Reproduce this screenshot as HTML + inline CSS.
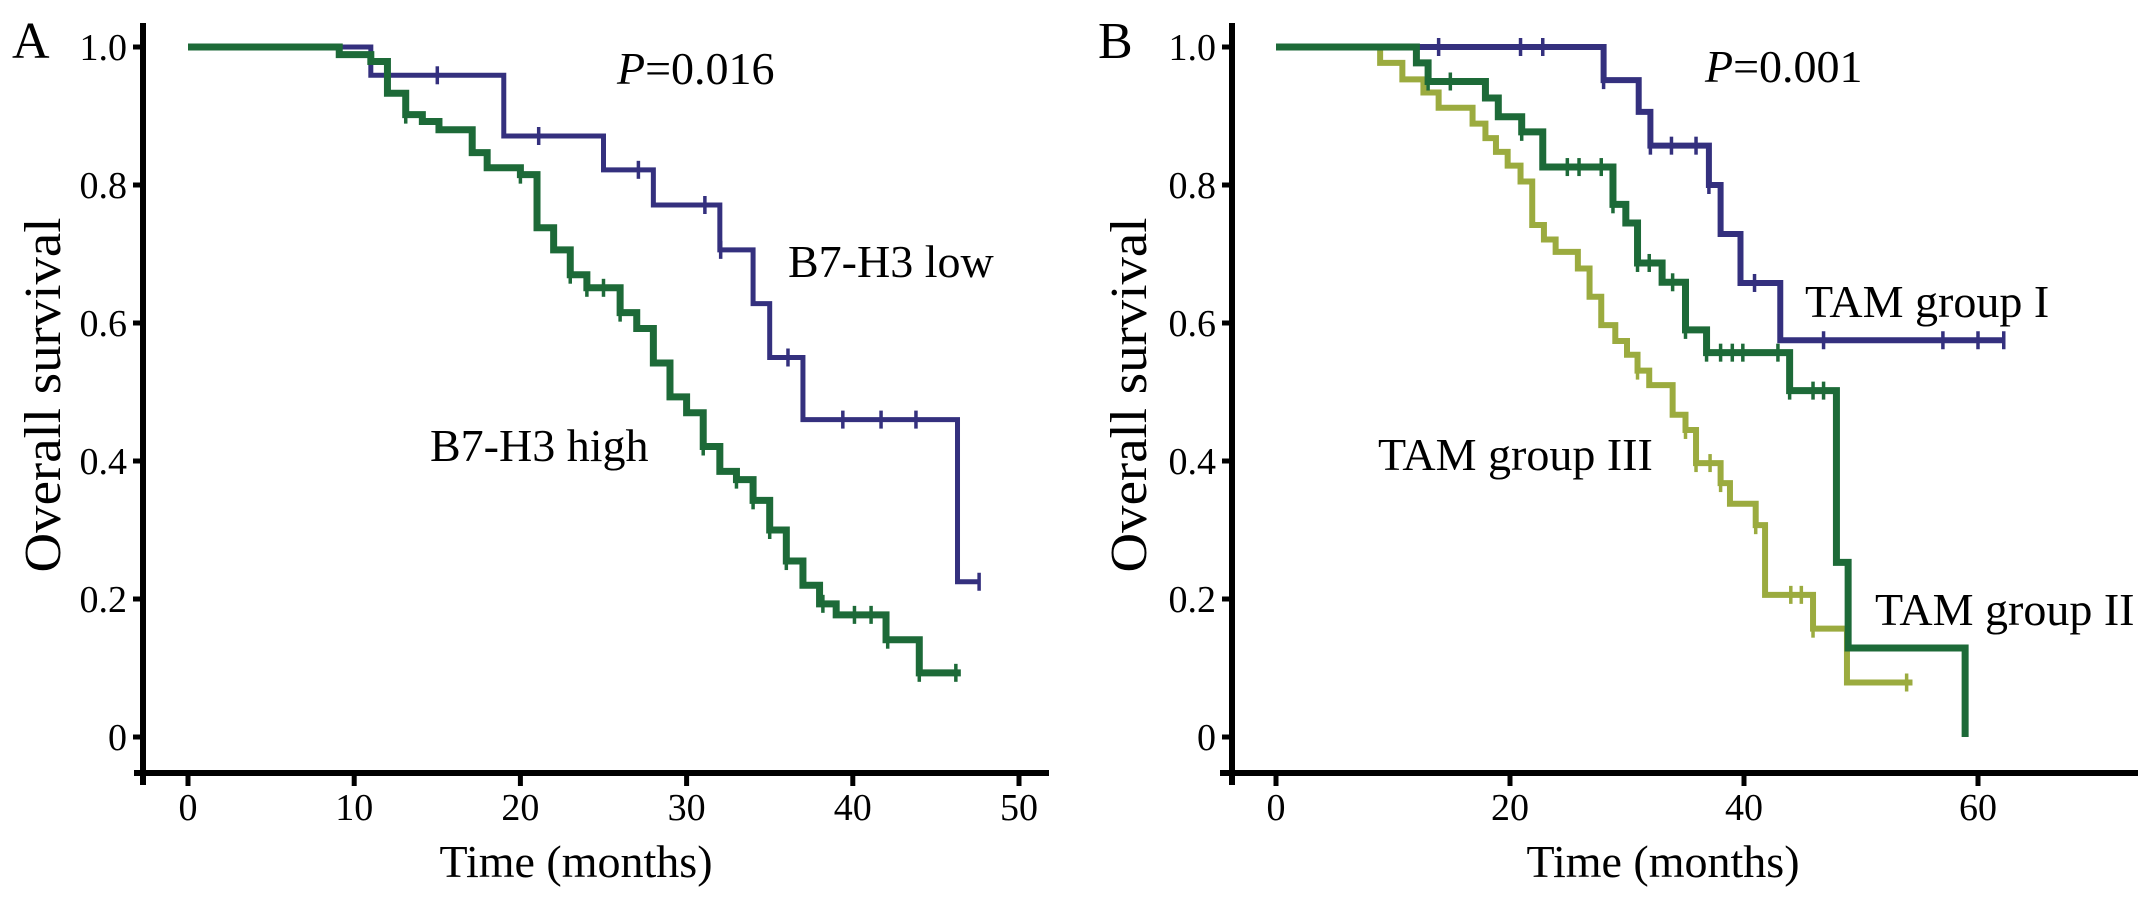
<!DOCTYPE html>
<html><head><meta charset="utf-8"><style>
html,body{margin:0;padding:0;background:#fff;}
svg{display:block;font-family:"Liberation Serif",serif;}
</style></head>
<body>
<svg id="chart" width="2150" height="899" viewBox="0 0 2150 899" xmlns="http://www.w3.org/2000/svg">
<rect width="2150" height="899" fill="#fff"/>
<g id="panelA"></g>
<g id="panelB"></g>
</svg>
<script>
// ---------- data ----------
const yTicks = [0, 0.2, 0.4, 0.6, 0.8, 1.0];
const yTickLabels = ["0", "0.2", "0.4", "0.6", "0.8", "1.0"];
const xTicksA = [0, 10, 20, 30, 40, 50];
const xTicksB = [0, 20, 40, 60];

const aLowTimes = [11, 19, 25, 28, 32, 34, 35, 37, 46.3];
const aLowSurv = [0.959, 0.871, 0.822, 0.771, 0.706, 0.628, 0.55, 0.46, 0.225];
const aLowCensor = [15, 21.1, 27.1, 31.1, 32.05, 36.1, 39.4, 41.7, 43.8, 47.6];
const aLowEnd = 47.6;

const aHighTimes = [9.1, 11, 12, 13.1, 14.1, 15.1, 17.1, 18, 20, 21, 22, 23, 24, 26, 27, 28, 29, 30, 31, 32, 33, 34, 35, 36, 37, 38, 39, 42, 44];
const aHighSurv = [0.989, 0.979, 0.933, 0.902, 0.892, 0.880, 0.847, 0.825, 0.815, 0.738, 0.706, 0.670, 0.651, 0.615, 0.592, 0.542, 0.493, 0.470, 0.421, 0.385, 0.373, 0.343, 0.30, 0.255, 0.22, 0.193, 0.177, 0.141, 0.093];
const aHighCensor = [13.1, 20, 23, 24, 25, 26, 31, 33, 34, 35, 36, 38.2, 40.1, 41.1, 42.1, 44, 46.2];
const aHighEnd = 46.5;

const b1Times = [28, 31, 32, 37, 38, 39.7, 43.1];
const b1Surv = [0.952, 0.906, 0.857, 0.80, 0.729, 0.658, 0.575];
const b1Censor = [13.9, 20.9, 22.8, 28, 32, 33.8, 35.9, 37, 40.9, 46.8, 57, 60, 62.2];
const b1End = 62.2;

const b2Times = [12, 13, 17.9, 19, 21, 22.8, 28.8, 29.9, 30.9, 33, 35, 36.8, 43.9, 47.9, 48.9, 58.9];
const b2Surv = [0.977, 0.95, 0.926, 0.899, 0.877, 0.826, 0.772, 0.745, 0.687, 0.659, 0.59, 0.557, 0.502, 0.253, 0.129, 0];
const b2Censor = [13, 14.9, 21, 24.9, 25.9, 27.8, 28.8, 30.9, 31.9, 33.9, 35, 36.8, 38, 39, 39.9, 42.9, 43.9, 45.9, 46.8];
const b2End = 58.9;

const b3Times = [8.9, 10.8, 12.6, 13.9, 16.8, 17.9, 18.8, 19.8, 20.9, 21.9, 22.9, 23.9, 25.8, 26.8, 27.8, 29, 30, 30.9, 31.9, 33.9, 35, 35.9, 38, 38.8, 41, 41.8, 45.9, 48.8];
const b3Surv = [0.977, 0.953, 0.934, 0.912, 0.889, 0.868, 0.848, 0.828, 0.805, 0.742, 0.721, 0.703, 0.679, 0.638, 0.597, 0.574, 0.554, 0.531, 0.510, 0.467, 0.445, 0.397, 0.368, 0.338, 0.307, 0.206, 0.157, 0.079];
const b3Censor = [30.9, 35, 35.9, 37.1, 38, 41, 44, 44.9, 45.9, 53.9];
const b3End = 54.4;

// ---------- helpers ----------
const NS = "http://www.w3.org/2000/svg";
function mk(tag, attrs, parent) {
  const e = document.createElementNS(NS, tag);
  for (const k in attrs) e.setAttribute(k, attrs[k]);
  parent.appendChild(e);
  return e;
}
const yPix = v => 737 - 690 * v;

function survAt(times, surv, t) {
  let s = 1;
  for (let i = 0; i < times.length; i++) if (times[i] <= t + 1e-9) s = surv[i];
  return s;
}

function drawCurve(g, xf, times, surv, censor, end, color, w, name) {
  let d = "M" + xf(0) + "," + yPix(1);
  let cur = 1;
  for (let i = 0; i < times.length; i++) {
    d += " H" + xf(times[i]) + " V" + yPix(surv[i]);
    cur = surv[i];
  }
  if (cur > 0) d += " H" + xf(end);
  const p = mk("path", {d: d, fill: "none", stroke: color, "stroke-width": w, "stroke-linejoin": "miter", "stroke-linecap": "butt"}, g);
  
  
  censor.forEach(t => {
    const x = xf(t), y = yPix(survAt(times, surv, t));
    const c = mk("line", {x1: x, x2: x, y1: y - 9, y2: y + 9, stroke: color, "stroke-width": 3.5}, g);
    
    
  });
}

function drawAxes(g, axisX, xStart, xEnd, xf, xticks, letter, letterX, titleX, ylabX) {
  const ax = mk("line", {x1: axisX, x2: axisX, y1: 23, y2: 775, stroke: "#000", "stroke-width": 6}, g);
  
  
  const bx = mk("line", {x1: xStart, x2: xEnd, y1: 773, y2: 773, stroke: "#000", "stroke-width": 6}, g);
  
  
  const lt = mk("line", {x1: axisX, x2: axisX, y1: 773, y2: 785, stroke: "#000", "stroke-width": 6}, g);
  
  
  yTicks.forEach((v, i) => {
    const y = yPix(v);
    const t = mk("line", {x1: axisX - 10, x2: axisX, y1: y, y2: y, stroke: "#000", "stroke-width": 5}, g);
    
    
    const tx = mk("text", {x: axisX - 16, y: y + 13, "text-anchor": "end", "font-size": 38}, g);
    tx.textContent = yTickLabels[i];
    
    
  });
  xticks.forEach(v => {
    const x = xf(v);
    const t = mk("line", {x1: x, x2: x, y1: 773, y2: 786, stroke: "#000", "stroke-width": 5}, g);
    
    
    const tx = mk("text", {x: x, y: 820, "text-anchor": "middle", "font-size": 38}, g);
    tx.textContent = String(v);
    
    
  });
  const xt = mk("text", {x: titleX, y: 877, "text-anchor": "middle", "font-size": 46}, g);
  xt.textContent = "Time (months)";
  
  
  const yt = mk("text", {x: 0, y: 0, "text-anchor": "middle", "font-size": 52, transform: "translate(" + ylabX + ",395) rotate(-90)", textLength: 355, lengthAdjust: "spacingAndGlyphs"}, g);
  yt.textContent = "Overall survival";
  
  
  const lt2 = mk("text", {x: letterX, y: 58, "font-size": 52}, g);
  lt2.textContent = letter;
  
  
}

function label(g, x, y, txt, name, italicP) {
  const t = mk("text", {x: x, y: y, "font-size": 46}, g);
  if (italicP) {
    const s = mk("tspan", {"font-style": "italic"}, t);
    s.textContent = "P";
    const r = mk("tspan", {}, t);
    r.textContent = txt;
  } else t.textContent = txt;
  
  
}

// ---------- panel A ----------
const gA = document.getElementById("panelA");
const xA = m => 188 + 16.62 * m;
drawAxes(gA, 143, 134, 1049, xA, xTicksA, "A", 12, 576, 60);
drawCurve(gA, xA, aLowTimes, aLowSurv, aLowCensor, aLowEnd, "#34307e", 5, "b7h3-low");
drawCurve(gA, xA, aHighTimes, aHighSurv, aHighCensor, aHighEnd, "#1d6a38", 7, "b7h3-high");
label(gA, 617, 84, "=0.016", "p-value-a", true);
label(gA, 788, 277, "B7-H3 low", "label-b7h3-low", false);
label(gA, 430, 461, "B7-H3 high", "label-b7h3-high", false);

// ---------- panel B ----------
const gB = document.getElementById("panelB");
const xB = m => 1276 + 11.7 * m;
drawAxes(gB, 1232, 1220, 2138, xB, xTicksB, "B", 1098, 1663, 1146);
drawCurve(gB, xB, b3Times, b3Surv, b3Censor, b3End, "#9bab3f", 6, "tam-group-3");
drawCurve(gB, xB, b1Times, b1Surv, b1Censor, b1End, "#34307e", 6, "tam-group-1");
drawCurve(gB, xB, b2Times, b2Surv, b2Censor, b2End, "#1d6a38", 7, "tam-group-2");
label(gB, 1705, 82, "=0.001", "p-value-b", true);
label(gB, 1805, 317, "TAM group I", "label-tam-group-1", false);
label(gB, 1875, 625, "TAM group II", "label-tam-group-2", false);
label(gB, 1378, 470, "TAM group III", "label-tam-group-3", false);
</script>
</body></html>
